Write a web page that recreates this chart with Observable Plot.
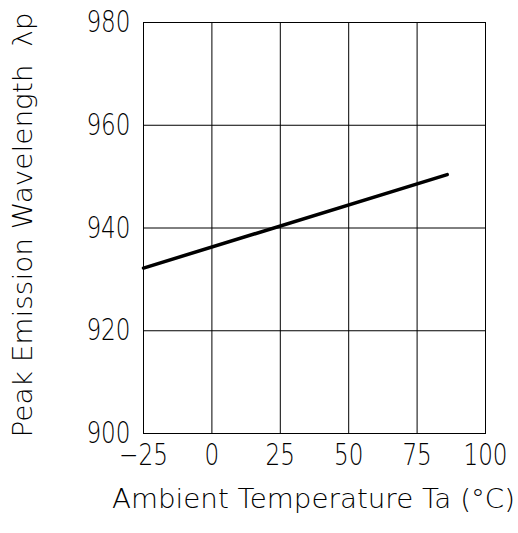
<!DOCTYPE html>
<html>
<head>
<meta charset="utf-8">
<script src="https://cdn.jsdelivr.net/npm/d3@7"></script>
<script src="https://cdn.jsdelivr.net/npm/@observablehq/plot@0.6"></script>
<style>
  html, body { margin: 0; padding: 0; background: #fff; }
  svg { font-family: "DejaVu Sans", sans-serif; font-weight: 200; }
</style>
</head>
<body>
<div id="chart"></div>
<script>
const temps = [-25, 86];
const wavelengths = [932.2, 950.4];
const xTicks = [-25, 0, 25, 50, 75, 100];
const yTicks = [900, 920, 940, 960, 980];
const xTitle = "Ambient Temperature Ta (°C)";
const yTitle = "Peak Emission Wavelength  λp";

const data = temps.map((t, i) => ({t, w: wavelengths[i]}));

const chart = Plot.plot({
  width: 518,
  height: 533,
  marginLeft: 143,
  marginRight: 33,
  marginTop: 22,
  marginBottom: 100,
  style: {background: "#fff", color: "#000", fontFamily: "DejaVu Sans", fontWeight: 200},
  x: {domain: [-25, 100]},
  y: {domain: [900, 980]},
  marks: [
    Plot.gridX(xTicks, {stroke: "#000", strokeOpacity: 1, strokeWidth: 1}),
    Plot.gridY(yTicks, {stroke: "#000", strokeOpacity: 1, strokeWidth: 1}),
    Plot.frame({stroke: "#000", strokeWidth: 1}),
    Plot.axisX(xTicks, {tickSize: 0, tickPadding: 10, fontSize: 30, fontWeight: 200, label: null, tickFormat: d => d < 0 ? "−" + Math.abs(d) : String(d)}),
    Plot.axisY(yTicks, {tickSize: 0, tickPadding: 13, fontSize: 30, fontWeight: 200, label: null}),
    Plot.line(data, {x: "t", y: "w", stroke: "#000", strokeWidth: 3.5}),
    Plot.text([xTitle], {frameAnchor: "bottom", textAnchor: "middle", dy: 74, dx: -1, fontSize: 26, fontWeight: 200, text: d => d}),
    Plot.text([yTitle], {frameAnchor: "left", textAnchor: "middle", rotate: -90, dx: -120, dy: -3, fontSize: 26, fontWeight: 200, text: d => d})
  ]
});
document.getElementById("chart").appendChild(chart);

// condense the tick labels horizontally to match the narrow CAD-style font
chart.querySelectorAll("g[aria-label='x-axis tick label'] text, g[aria-label='y-axis tick label'] text").forEach(t => {
  const L = t.getComputedTextLength();
  t.setAttribute("textLength", (L * 0.77).toFixed(1));
  t.setAttribute("lengthAdjust", "spacingAndGlyphs");
});
const allText = Array.from(chart.querySelectorAll("text"));
const xt = allText.find(t => t.textContent === xTitle);
if (xt) { xt.setAttribute("textLength", 403); xt.setAttribute("lengthAdjust", "spacingAndGlyphs"); }
const yt = allText.find(t => t.textContent === yTitle);
if (yt) { yt.setAttribute("textLength", 425); yt.setAttribute("lengthAdjust", "spacingAndGlyphs"); }
</script>
</body>
</html>
